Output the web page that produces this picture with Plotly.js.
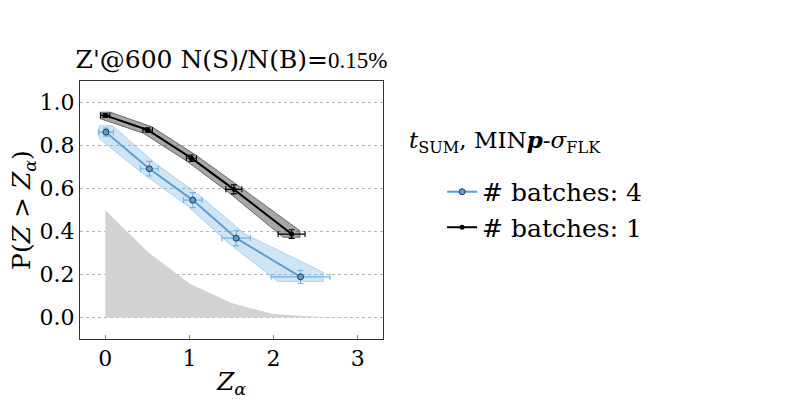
<!DOCTYPE html>
<html>
<head>
<meta charset="utf-8">
<script src="https://cdn.plot.ly/plotly-3.0.1.min.js"></script>
<style>
  html, body { margin: 0; padding: 0; background: #fff; }
  #plot { width: 797px; height: 399px; }
</style>
</head>
<body>
<div id="plot"></div>
<script>
// reference distribution (grey area)
const refZ = [0, 0.5, 1, 1.5, 2, 2.5, 3, 3.3];
const refP = [0.5, 0.307, 0.158, 0.067, 0.016, 0.003, 0.0005, 0];

// # batches: 4
const b4Z = [0.008, 0.524, 1.04, 1.556, 2.32];
const b4P = [0.862, 0.692, 0.546, 0.369, 0.189];
const b4Zerr = [0.09, 0.105, 0.11, 0.17, 0.35];
const b4Perr = [0.019, 0.034, 0.035, 0.036, 0.031];
const b4BandZ = [0.08, 0.07, 0.07, 0.10, 0.27];
const b4BandP = [0.03, 0.025, 0.025, 0.02, 0.021];

// # batches: 1
const b1Z = [0.0, 0.504, 1.024, 1.528, 2.214];
const b1P = [0.94, 0.872, 0.741, 0.596, 0.388];
const b1Zerr = [0.055, 0.057, 0.06, 0.095, 0.16];
const b1Perr = [0.008, 0.01, 0.015, 0.021, 0.02];
const b1BandZ = [0.06, 0.05, 0.05, 0.06, 0.1];
const b1BandP = [0.015, 0.015, 0.015, 0.015, 0.015];

const SERIF = 'DejaVu Serif';
const BLUE = '#5b9fd2';

// outline of the uncertainty band around a decreasing curve
function bandOutline(x, y, bx, by) {
    const n = x.length - 1;
    const px = [x[0] - bx[0]];
    const py = [y[0] + by[0]];
    for (let i = 0; i <= n; i++) {
        px.push(x[i] + bx[i]);
        py.push(y[i] + by[i]);
    }
    px.push(x[n] + bx[n]);
    py.push(y[n] - by[n]);
    for (let i = n; i >= 0; i--) {
        px.push(x[i] - bx[i]);
        py.push(y[i] - by[i]);
    }
    px.push(px[0]);
    py.push(py[0]);
    return { x: px, y: py };
}

function bandTrace(outline, fill, edge) {
    return {
        x: outline.x,
        y: outline.y,
        mode: 'lines',
        fill: 'toself',
        fillcolor: fill,
        line: { color: edge, width: 1 },
        showlegend: false,
        hoverinfo: 'skip',
        type: 'scatter'
    };
}

function seriesTrace({ x, y, xerr, yerr, name, color, errColor, marker }) {
    return {
        x, y,
        name,
        mode: 'lines+markers',
        line: { color, width: 2 },
        marker,
        error_x: { type: 'data', array: xerr, color: errColor, thickness: 1.1, width: 3 },
        error_y: { type: 'data', array: yerr, color: errColor, thickness: 1.1, width: 3 },
        type: 'scatter'
    };
}

const data = [
    {
        x: refZ,
        y: refP,
        mode: 'lines',
        fill: 'tozeroy',
        fillcolor: '#d3d3d3',
        line: { width: 0, color: '#d3d3d3' },
        showlegend: false,
        hoverinfo: 'skip',
        type: 'scatter'
    },
    bandTrace(bandOutline(b4Z, b4P, b4BandZ, b4BandP), 'rgba(107,174,222,0.32)', 'rgba(107,174,222,0.45)'),
    bandTrace(bandOutline(b1Z, b1P, b1BandZ, b1BandP), 'rgba(60,60,60,0.45)', 'rgba(40,40,40,0.6)'),
    seriesTrace({
        x: b4Z, y: b4P, xerr: b4Zerr, yerr: b4Perr,
        name: '# batches: 4',
        color: BLUE,
        errColor: '#6fb4e3',
        marker: { size: 6, color: BLUE, line: { color: '#1d3b55', width: 1 } }
    }),
    seriesTrace({
        x: b1Z, y: b1P, xerr: b1Zerr, yerr: b1Perr,
        name: '# batches: 1',
        color: '#000',
        errColor: '#000',
        marker: { size: 5, color: '#000' }
    })
];

const layout = {
    width: 797,
    height: 399,
    margin: { l: 80, r: 414, t: 81, b: 60 },
    paper_bgcolor: '#fff',
    plot_bgcolor: '#fff',
    font: { family: SERIF, size: 22, color: '#000' },
    title: {
        text: "Z'@600 N(S)/N(B)=<span style='font-family:Liberation Serif;font-size:23px'>0.15%</span>",
        font: { family: SERIF, size: 25, color: '#000' },
        x: 0.5,
        xref: 'paper',
        y: 1 - 59 / 399,
        yref: 'container',
        yanchor: 'middle'
    },
    xaxis: {
        range: [-0.3, 3.3],
        dtick: 1,
        tick0: 0,
        showgrid: false,
        zeroline: false,
        showline: true,
        mirror: true,
        linecolor: '#333',
        linewidth: 1,
        ticks: 'inside',
        ticklen: 4,
        tickcolor: '#888',
        tickfont: { family: SERIF, size: 22, color: '#000' },
        title: { text: '<i>Z</i><sub><i>α</i></sub>', font: { family: SERIF, size: 25, color: '#000' }, standoff: 2 }
    },
    yaxis: {
        range: [-0.1, 1.1],
        dtick: 0.2,
        tick0: 0,
        tickformat: '.1f',
        showgrid: true,
        gridcolor: '#b5b5b5',
        griddash: 'dot',
        gridwidth: 1,
        zeroline: false,
        showline: true,
        mirror: true,
        linecolor: '#333',
        linewidth: 1,
        ticks: '',
        tickfont: { family: SERIF, size: 22, color: '#000' },
        title: { text: 'P(<i>Z</i> > <i>Z</i><sub><i>α</i></sub>)', font: { family: SERIF, size: 25, color: '#000' }, standoff: 0 }
    },
    annotations: [{
        text: '<i>t</i><sub>SUM</sub>, MIN<b><i>p</i></b>-<i>σ</i><sub>FLK</sub>',
        xref: 'paper',
        yref: 'paper',
        x: 1.079,
        y: 0.764,
        xanchor: 'left',
        yanchor: 'middle',
        showarrow: false,
        font: { family: SERIF, size: 23, color: '#000' }
    }],
    showlegend: true,
    legend: {
        x: 1.195,
        xanchor: 'left',
        y: 0.659,
        yanchor: 'top',
        bgcolor: 'rgba(0,0,0,0)',
        font: { family: SERIF, size: 25, color: '#000' },
        tracegroupgap: 0
    }
};

Plotly.newPlot('plot', data, layout, {
    displayModeBar: false,
    staticPlot: true
});
</script>
</body>
</html>
